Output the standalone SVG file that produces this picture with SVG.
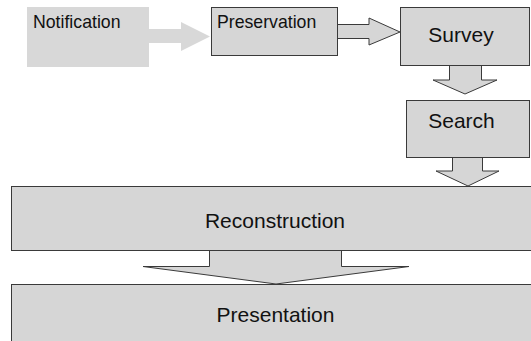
<svg xmlns="http://www.w3.org/2000/svg" width="531" height="341" viewBox="0 0 531 341">
<style>
.box{fill:#d6d6d6;stroke:#3a3a3a;stroke-width:1}
.plain{fill:#d8d8d8;stroke:none}
.arr{fill:#d6d6d6;stroke:#3a3a3a;stroke-width:1;stroke-linejoin:miter}
.arrp{fill:#d8d8d8;stroke:none}
.t{font-family:"Liberation Sans",Arial,sans-serif;fill:#111}
.s{font-size:17.7px}
.b{font-size:21px;text-anchor:middle}
</style>
<rect width="531" height="341" fill="#ffffff"/>
<g id="connectors">
<polygon class="arrp" points="149,29 181,29 181,22 210,36.5 181,51 181,43 149,43"/>
<polygon class="arr" points="337.5,24.5 369,24.5 369,18 400,32 369,45 369,38.5 337.5,38.5"/>
<polygon class="arr" points="449.5,65.5 449.5,80 433,80 465,94 497,80 481.5,80 481.5,65.5"/>
<polygon class="arr" points="452.5,157.5 452.5,171 436,171 468,186 499,171 482.5,171 482.5,157.5"/>
<polygon class="arr" points="209.5,250.5 209.5,266.5 143,266.5 276,284 409,266.5 341.5,266.5 341.5,250.5"/>
</g>
<g id="notification">
<rect class="plain" x="27" y="7" width="122" height="60"/>
<text class="t s" x="33" y="28">Notification</text>
</g>
<g id="preservation">
<rect class="box" x="211.5" y="7.5" width="126" height="48"/>
<text class="t s" x="217" y="28">Preservation</text>
</g>
<g id="survey">
<rect class="box" x="400.5" y="7.5" width="129" height="58"/>
<text class="t b" x="461" y="42">Survey</text>
</g>
<g id="search">
<rect class="box" x="406.5" y="100.5" width="123" height="57"/>
<text class="t b" x="461.5" y="128">Search</text>
</g>
<g id="reconstruction">
<rect class="box" x="11.5" y="186.5" width="530" height="64"/>
<text class="t b" x="275" y="228">Reconstruction</text>
</g>
<g id="presentation">
<rect class="box" x="11.5" y="284.5" width="530" height="70"/>
<text class="t b" x="275.5" y="322">Presentation</text>
</g>
</svg>
